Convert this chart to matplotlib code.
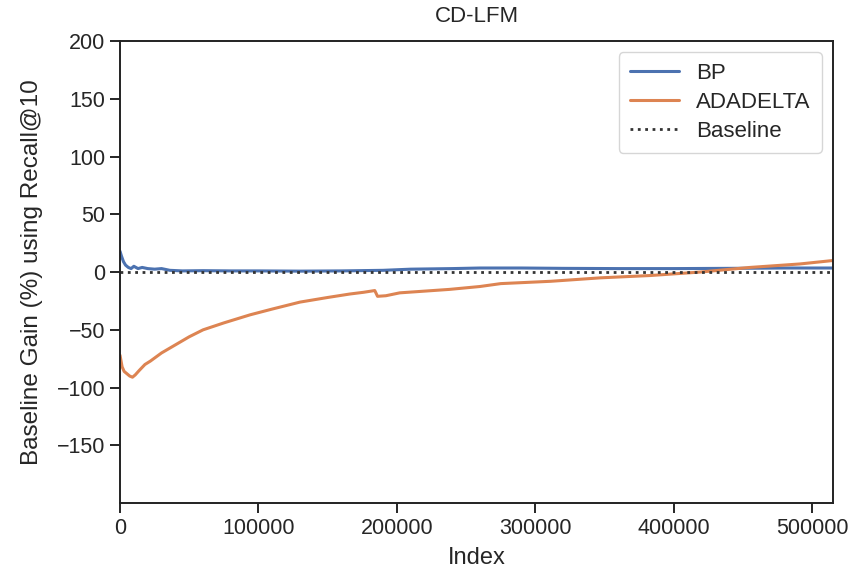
import matplotlib
matplotlib.use('Agg')
import matplotlib.pyplot as plt
import seaborn as sns

sns.set_theme(style='ticks')
plt.rcParams['font.family'] = ['Liberation Sans', 'DejaVu Sans']

# BP curve (index, gain %)
bp_x = [0, 1000, 2500, 4000, 6000, 8000, 10000, 13000, 16000, 20000, 25000, 30000,
        36000, 45000, 60000, 80000, 100000, 130000, 160000, 190000, 210000, 240000,
        260000, 290000, 320000, 360000, 400000, 440000, 480000, 515000]
bp_y = [18, 14, 9, 6, 4, 3, 5, 3, 4, 3, 2.5, 3, 1.5, 1, 1.2, 1, 1, 0.8, 1, 1.5, 2.5,
        3, 3.5, 3.5, 3.2, 3, 3, 3.2, 3.5, 3.5]

# ADADELTA curve (index, gain %)
ad_x = [0, 1500, 3000, 5000, 7000, 9000, 11000, 14000, 18000, 22000, 30000, 40000,
        50000, 60000, 75000, 94000, 110000, 130000, 150000, 166000, 176000, 184000,
        186000, 192000, 202000, 220000, 238000, 260000, 275000, 311000, 347000,
        383000, 419000, 455000, 491000, 515000]
ad_y = [-72, -82, -86, -88, -90, -91, -89, -85, -80, -77, -70, -63, -56, -50, -44,
        -37, -32, -26, -22, -19, -17.5, -16, -21, -20.5, -18, -16.5, -15, -12.5, -10,
        -8, -5, -3, 0, 4, 7, 10]

baseline_x = [0, 515000]
baseline_y = [0, 0]

fig = plt.figure(figsize=(8.53, 5.77), dpi=100)
ax = fig.add_axes([0.1407, 0.128, 0.8359, 0.801])

ax.plot(bp_x, bp_y, color='#4c72b0', lw=2.2, label='BP')
ax.plot(ad_x, ad_y, color='#dd8452', lw=2.2, label='ADADELTA')
ax.plot(baseline_x, baseline_y, color='#333333', lw=2, ls=':', label='Baseline')

ax.set_xlim(0, 515000)
ax.set_ylim(-200, 200)
ax.set_yticks(range(-150, 201, 50))
ax.set_xticks(range(0, 500001, 100000))
ax.tick_params(labelsize=15.5, length=7, width=1.4)
for s in ax.spines.values():
    s.set_linewidth(1.4)
    s.set_color('#222222')

ax.set_title('CD-LFM', fontsize=16, pad=14)
ax.set_xlabel('Index', fontsize=17, labelpad=6)
ax.set_ylabel('Baseline Gain (%) using Recall@10', fontsize=17.5, labelpad=10)
ax.legend(loc='upper right', fontsize=16, handlelength=2.2, borderpad=0.5,
          labelspacing=0.35, borderaxespad=0.5)

fig.savefig('out.png', dpi=100)
